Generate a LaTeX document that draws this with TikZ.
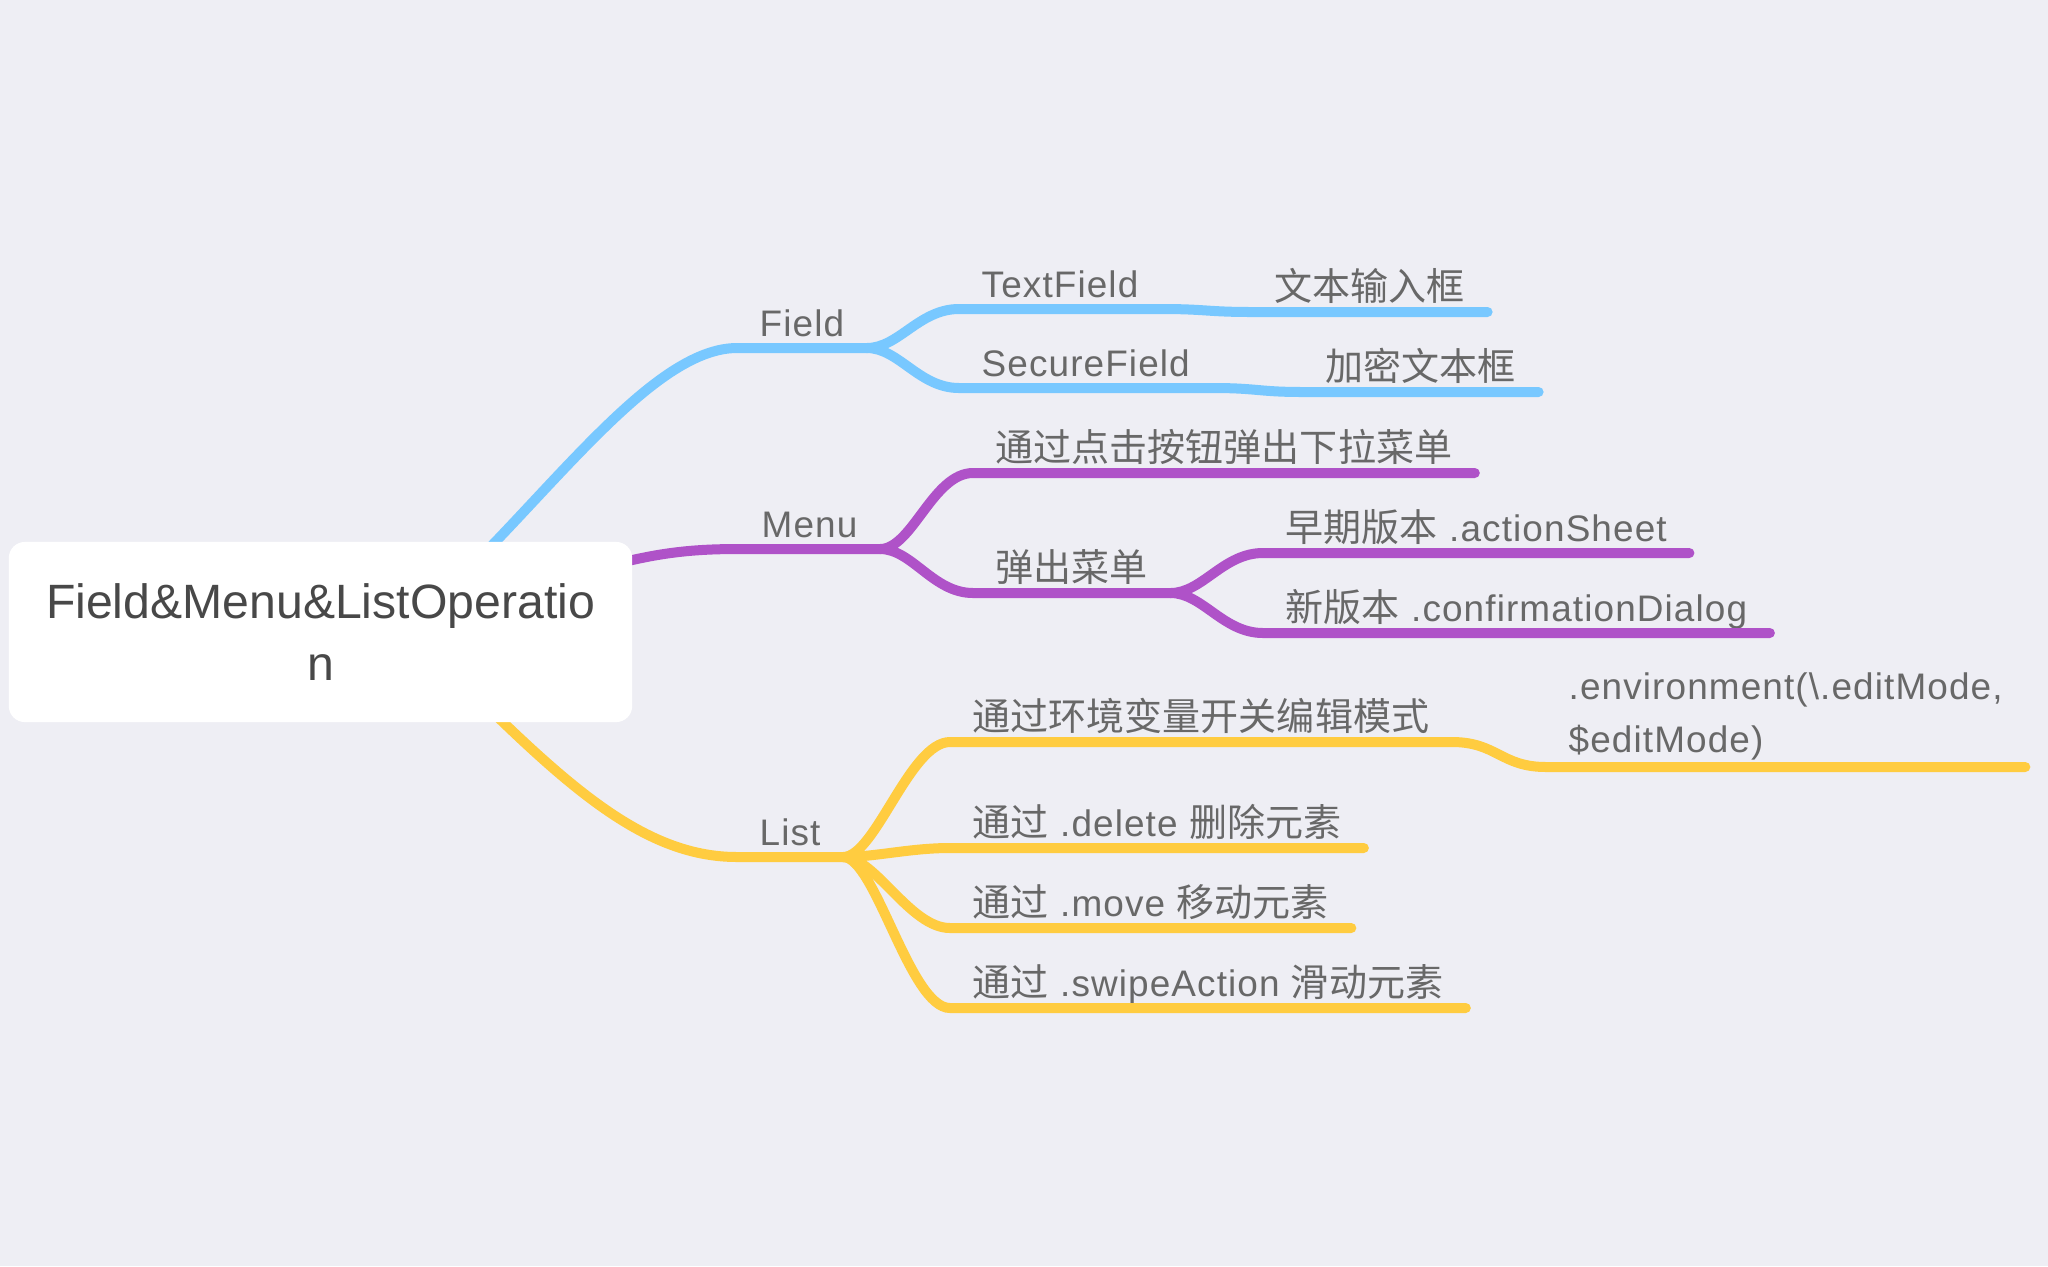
\documentclass[tikz,border=0pt]{standalone}
\usepackage{fontspec}
\setmainfont[LetterSpace=3]{Liberation Sans}
\newfontfamily\rootfont{Liberation Sans}
\newfontfamily\cjk[Scale=1.03]{Noto Sans CJK SC}

\definecolor{bgcol}{RGB}{238,238,244}
\definecolor{fieldcol}{RGB}{120,200,255}
\definecolor{menucol}{RGB}{175,82,200}
\definecolor{listcol}{RGB}{255,204,64}
\definecolor{txtcol}{RGB}{104,104,104}
\definecolor{rootcol}{RGB}{72,72,72}

\tikzset{
  topic/.style={anchor=base west, inner xsep=0.22cm, inner ysep=0pt, text=txtcol,
    font=\fontsize{10.5}{15.1}\selectfont},
  root/.style={fill=white, rounded corners=0.16cm, minimum width=6.23cm, minimum height=1.8cm,
    align=center, inner sep=0pt, text=rootcol, font=\rootfont\fontsize{13.7}{17.6}\selectfont},
  branch/.style={line width=0.1cm, line cap=round}
}

\begin{document}
\begin{tikzpicture}[x=0.01cm, y=-0.01cm]
    \fill[bgcol] (0,0) rectangle (2048,1266);
    \useasboundingbox (0,0) rectangle (2048,1266);

    % where the lines leave the root
    \coordinate (root-f) at (390,640);
    \coordinate (root-m) at (560,580);
    \coordinate (root-l) at (440,660);

    % start of every underline
    \coordinate (field-s) at (737,348);
    \coordinate (tf-s) at (959,309);
    \coordinate (tfc-s) at (1252,312);
    \coordinate (sf-s) at (959,388);
    \coordinate (sfc-s) at (1303,392);
    \coordinate (menu-s) at (739,549);
    \coordinate (pop-s) at (973,473);
    \coordinate (popup-s) at (973,593);
    \coordinate (old-s) at (1263,553);
    \coordinate (new-s) at (1263,633);
    \coordinate (list-s) at (737,857);
    \coordinate (env-s) at (950,742);
    \coordinate (envc-s) at (1546,767);
    \coordinate (del-s) at (950,848);
    \coordinate (mov-s) at (950,928);
    \coordinate (swp-s) at (950,1008);

    % topics
    \node[topic] (field) at ([yshift=0.12cm]field-s) {Field};
    \node[topic] (tf) at ([yshift=0.12cm]tf-s) {TextField};
    \node[topic] (tfc) at ([yshift=0.12cm]tfc-s) {\cjk 文本输入框};
    \node[topic] (sf) at ([yshift=0.12cm]sf-s) {SecureField};
    \node[topic] (sfc) at ([yshift=0.12cm]sfc-s) {\cjk 加密文本框};
    \node[topic] (menu) at ([yshift=0.12cm]menu-s) {Menu};
    \node[topic] (pop) at ([yshift=0.12cm]pop-s) {\cjk 通过点击按钮弹出下拉菜单};
    \node[topic] (popup) at ([yshift=0.12cm]popup-s) {\cjk 弹出菜单};
    \node[topic] (old) at ([yshift=0.12cm]old-s) {{\cjk 早期版本} .actionSheet};
    \node[topic] (new) at ([yshift=0.12cm]new-s) {{\cjk 新版本} .confirmationDialog};
    \node[topic] (list) at ([yshift=0.12cm]list-s) {List};
    \node[topic] (env) at ([yshift=0.12cm]env-s) {\cjk 通过环境变量开关编辑模式};
    \node[topic, anchor=south west, inner ysep=0.06cm, align=left] (envc) at (envc-s)
        {.environment(\textbackslash.editMode,\\\$editMode)};
    \node[topic] (del) at ([yshift=0.12cm]del-s) {{\cjk 通过} .delete {\cjk 删除元素}};
    \node[topic] (mov) at ([yshift=0.12cm]mov-s) {{\cjk 通过} .move {\cjk 移动元素}};
    \node[topic] (swp) at ([yshift=0.12cm]swp-s) {{\cjk 通过} .swipeAction {\cjk 滑动元素}};

    % end of every underline
    \coordinate (field-e) at (field-s -| field.east);
    \coordinate (tf-e) at (tf-s -| tf.east);
    \coordinate (tfc-e) at (tfc-s -| tfc.east);
    \coordinate (sf-e) at (sf-s -| sf.east);
    \coordinate (sfc-e) at (sfc-s -| sfc.east);
    \coordinate (menu-e) at (menu-s -| menu.east);
    \coordinate (pop-e) at (pop-s -| pop.east);
    \coordinate (popup-e) at (popup-s -| popup.east);
    \coordinate (old-e) at (old-s -| old.east);
    \coordinate (new-e) at (new-s -| new.east);
    \coordinate (list-e) at (list-s -| list.east);
    \coordinate (env-e) at (env-s -| env.east);
    \coordinate (envc-e) at (envc-s -| envc.east);
    \coordinate (del-e) at (del-s -| del.east);
    \coordinate (mov-e) at (mov-s -| mov.east);
    \coordinate (swp-e) at (swp-s -| swp.east);

    % Field
    \draw[branch, fieldcol] (root-f) .. controls +(130,-100) and +(-97,0) .. (field-s) -- (field-e);
    \draw[branch, fieldcol] (field-e) .. controls +(32,0) and +(-40,0) .. (tf-s) -- (tf-e)
        .. controls +(45,0) and +(-45,0) .. (tfc-s) -- (tfc-e);
    \draw[branch, fieldcol] (field-e) .. controls +(32,0) and +(-40,0) .. (sf-s) -- (sf-e)
        .. controls +(45,0) and +(-45,0) .. (sfc-s) -- (sfc-e);

    % Menu
    \draw[branch, menucol] (root-m) .. controls +(80,-25) and +(-60,0) .. (menu-s) -- (menu-e);
    \draw[branch, menucol] (menu-e) .. controls +(32,0) and +(-40,0) .. (pop-s) -- (pop-e);
    \draw[branch, menucol] (menu-e) .. controls +(32,0) and +(-40,0) .. (popup-s) -- (popup-e);
    \draw[branch, menucol] (popup-e) .. controls +(32,0) and +(-40,0) .. (old-s) -- (old-e);
    \draw[branch, menucol] (popup-e) .. controls +(32,0) and +(-40,0) .. (new-s) -- (new-e);

    % List
    \draw[branch, listcol] (root-l) .. controls +(120,120) and +(-97,0) .. (list-s) -- (list-e);
    \draw[branch, listcol] (list-e) .. controls +(32,0) and +(-40,0) .. (env-s) -- (env-e)
        .. controls +(45,0) and +(-45,0) .. (envc-s) -- (envc-e);
    \draw[branch, listcol] (list-e) .. controls +(32,0) and +(-40,0) .. (del-s) -- (del-e);
    \draw[branch, listcol] (list-e) .. controls +(32,0) and +(-40,0) .. (mov-s) -- (mov-e);
    \draw[branch, listcol] (list-e) .. controls +(32,0) and +(-40,0) .. (swp-s) -- (swp-e);

    % root on top
    \node[root] (root) at (320.5,632) {Field\&Menu\&ListOperatio\\n};
\end{tikzpicture}
\end{document}
